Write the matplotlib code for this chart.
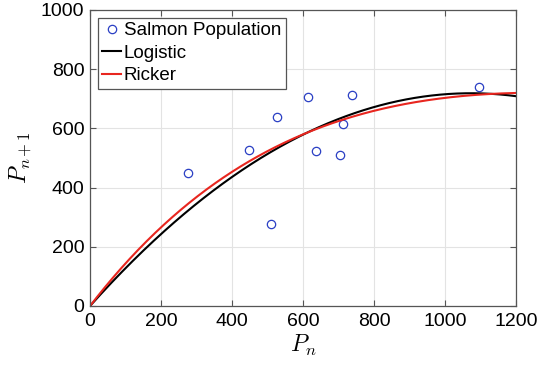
import numpy as np
import matplotlib
matplotlib.use("Agg")
import matplotlib.pyplot as plt

plt.rcParams["font.family"] = ["Liberation Sans", "DejaVu Sans"]
plt.rcParams["mathtext.fontset"] = "cm"

# Observed salmon population (P_n, P_{n+1})
pop_n = [277, 447, 509, 527, 614, 637, 705, 713, 739, 1097]
pop_n1 = [448, 528, 278, 639, 705, 522, 510, 614, 713, 740]

# Fitted model parameters
logistic_a, logistic_b = 1.339, 6.236e-4
ricker_a, ricker_b = 1.557, 7.95e-4

p = np.linspace(0, 1200, 400)
logistic = logistic_a * p - logistic_b * p ** 2
ricker = ricker_a * p * np.exp(-ricker_b * p)

fig = plt.figure(figsize=(5.44, 3.66), dpi=100)
ax = fig.add_axes([90 / 544, 1 - 306 / 366, 426 / 544, 296 / 366])

ax.plot(pop_n, pop_n1, "o", mfc="none", mec="#2a3fc4", ms=6, mew=0.9,
        label="Salmon Population")
ax.plot(p, logistic, color="black", lw=1.5, label="Logistic")
ax.plot(p, ricker, color="#e8261f", lw=1.5, label="Ricker")

ax.set_xlim(0, 1200)
ax.set_ylim(0, 1000)
ax.set_xticks(np.arange(0, 1201, 200))
ax.set_yticks(np.arange(0, 1001, 200))
ax.grid(True, color="#e3e3e3", lw=0.8)
ax.set_axisbelow(True)
ax.tick_params(direction="in", top=True, right=True, labelsize=14,
               length=4, color="#555555")
ax.tick_params(axis="x", pad=5)
ax.tick_params(axis="y", pad=4)
for s in ax.spines.values():
    s.set_color("#555555")
    s.set_linewidth(0.9)

ax.set_xlabel(r"$P_n$", fontsize=17, labelpad=2)
ax.set_ylabel(r"$P_{n+1}$", fontsize=17, labelpad=5)

leg = ax.legend(loc="upper left", fontsize=13.5, handlelength=1.0,
                handletextpad=0.15, borderpad=0.25, labelspacing=0.28,
                borderaxespad=0.4, fancybox=False, framealpha=1)
leg.get_frame().set_edgecolor("#555555")
leg.get_frame().set_linewidth(0.9)

fig.savefig("out.png", dpi=100)
